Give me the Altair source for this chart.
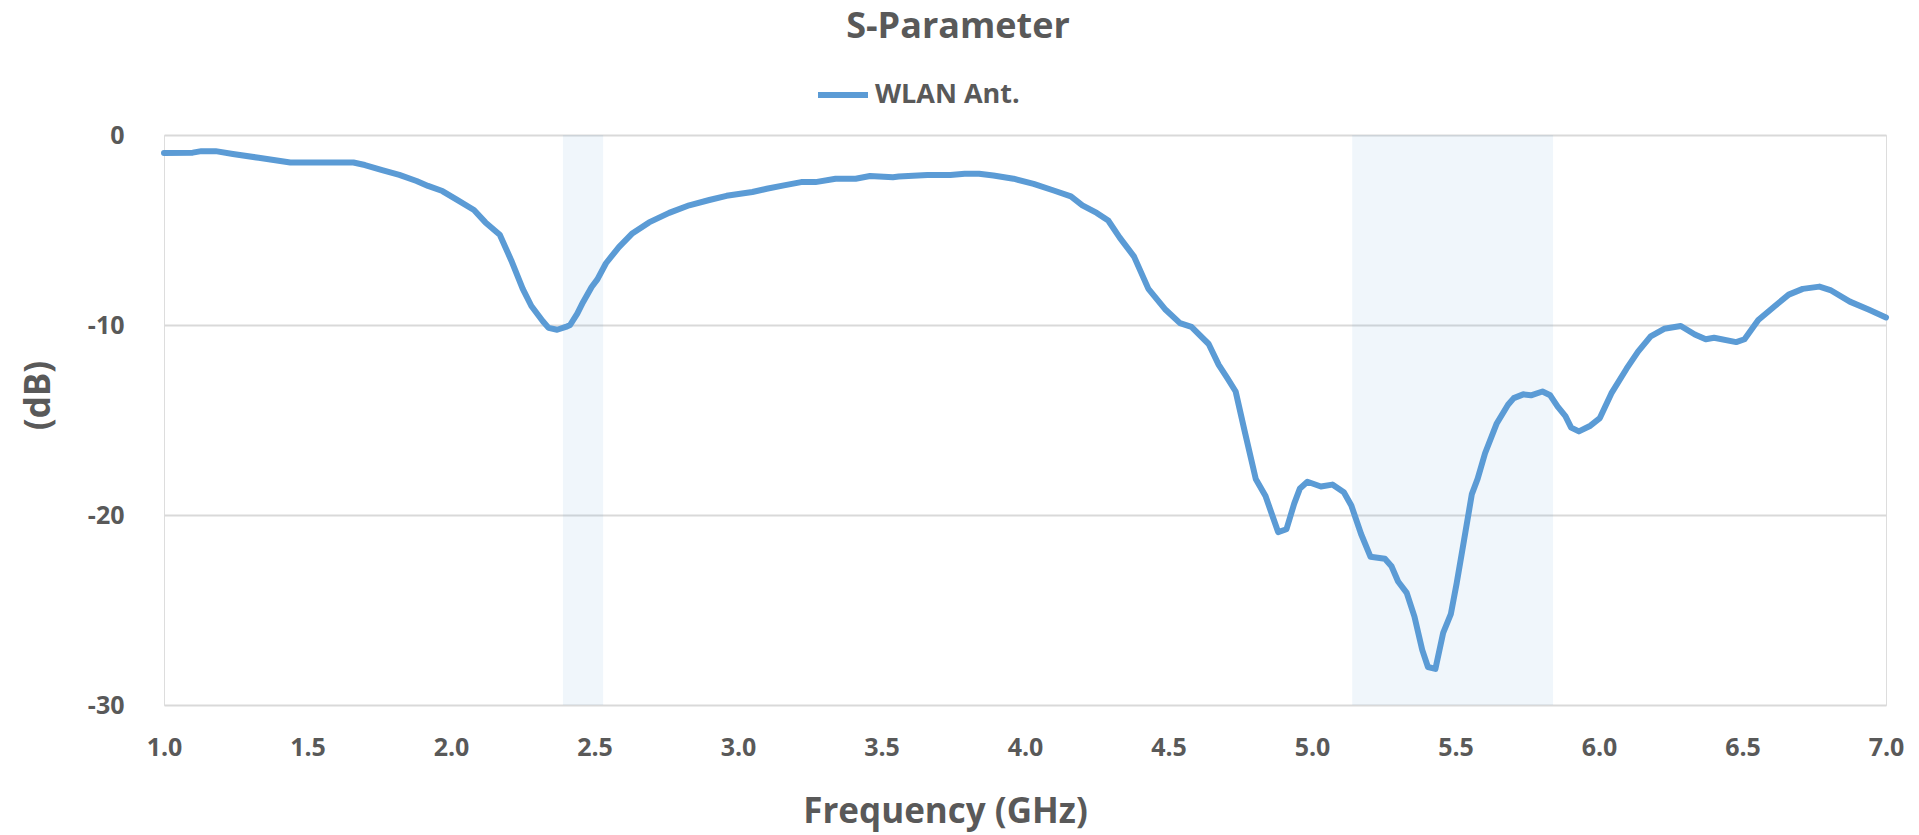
import altair as alt
import pandas as pd

# Frequency (GHz) and S11 (dB)
freq = [1.0, 1.1, 1.13, 1.18, 1.24, 1.33, 1.44, 1.66, 1.70, 1.76, 1.82, 1.88, 1.92, 1.97,
        2.02, 2.08, 2.12, 2.17, 2.21, 2.25, 2.28, 2.32, 2.34, 2.37, 2.40, 2.415, 2.44, 2.46,
        2.49, 2.51, 2.54, 2.585, 2.63, 2.69, 2.76, 2.83, 2.90, 2.96, 3.05, 3.10, 3.16, 3.22,
        3.27, 3.34, 3.41, 3.46, 3.54, 3.56, 3.66, 3.74, 3.79, 3.84, 3.89, 3.96, 4.03, 4.10,
        4.16, 4.20, 4.25, 4.29, 4.33, 4.38, 4.43, 4.49, 4.54, 4.58, 4.64, 4.675, 4.705, 4.734,
        4.764, 4.804, 4.838, 4.882, 4.911, 4.938, 4.958, 4.984, 5.031, 5.071, 5.111, 5.137,
        5.171, 5.204, 5.254, 5.277, 5.30, 5.33, 5.357, 5.384, 5.404, 5.43, 5.457, 5.484,
        5.504, 5.53, 5.557, 5.577, 5.603, 5.643, 5.683, 5.703, 5.736, 5.763, 5.803, 5.83,
        5.856, 5.883, 5.903, 5.93, 5.97, 6.003, 6.043, 6.096, 6.136, 6.18, 6.227, 6.285,
        6.334, 6.372, 6.401, 6.478, 6.507, 6.555, 6.613, 6.661, 6.71, 6.768, 6.806, 6.874,
        6.941, 7.0]
s11 = [-0.95, -0.93, -0.85, -0.85, -1.0, -1.2, -1.45, -1.45, -1.58, -1.85, -2.1, -2.42, -2.68, -2.95,
       -3.4, -3.95, -4.6, -5.25, -6.6, -8.1, -9.0, -9.8, -10.15, -10.25, -10.1, -10.0, -9.4, -8.8,
       -8.0, -7.6, -6.75, -5.9, -5.2, -4.6, -4.1, -3.7, -3.42, -3.2, -3.0, -2.83, -2.65, -2.48,
       -2.48, -2.3, -2.3, -2.16, -2.22, -2.19, -2.1, -2.1, -2.04, -2.04, -2.13, -2.3, -2.57, -2.92,
       -3.23, -3.7, -4.1, -4.5, -5.4, -6.4, -8.1, -9.2, -9.9, -10.1, -11.0, -12.1, -12.8, -13.5,
       -15.5, -18.1, -19.0, -20.9, -20.75, -19.4, -18.6, -18.25, -18.5, -18.4, -18.8, -19.5,
       -21.0, -22.2, -22.3, -22.7, -23.5, -24.1, -25.35, -27.1, -28.0, -28.1, -26.2, -25.2,
       -23.6, -21.3, -18.9, -18.1, -16.75, -15.2, -14.2, -13.85, -13.65, -13.7, -13.5, -13.7,
       -14.3, -14.8, -15.4, -15.6, -15.3, -14.9, -13.6, -12.3, -11.4, -10.6, -10.2, -10.05,
       -10.5, -10.75, -10.67, -10.9, -10.75, -9.74, -9.0, -8.4, -8.1, -7.98, -8.16, -8.77,
       -9.2, -9.6]
series_name = "WLAN Ant."

# Highlighted WLAN bands (GHz)
band_start = [2.39, 5.14]
band_end = [2.53, 5.84]
band_top = [0, 0]
band_bottom = [-30, -30]

x_ticks = [1.0, 1.5, 2.0, 2.5, 3.0, 3.5, 4.0, 4.5, 5.0, 5.5, 6.0, 6.5, 7.0]
y_ticks = [0, -10, -20, -30]

FONT = "Open Sans"
GREY = "#595959"
BLUE = "#5B9BD5"

line_df = pd.DataFrame({"f": freq, "db": s11, "series": [series_name] * len(freq)})
band_df = pd.DataFrame({"x1": band_start, "x2": band_end, "y1": band_top, "y2": band_bottom})

xscale = alt.Scale(domain=[1, 7], nice=False, zero=False)
yscale = alt.Scale(domain=[-30, 0], nice=False, zero=False)

bands = alt.Chart(band_df).mark_rect(color=BLUE, opacity=0.09).encode(
    x=alt.X("x1:Q", scale=xscale,
            axis=alt.Axis(values=x_ticks, format=".1f", grid=False, domain=False, ticks=False,
                          labelFlush=False, labelOverlap=False,
                          labelFont=FONT, labelFontSize=25, labelFontWeight="bold",
                          labelColor=GREY, labelPadding=30,
                          title="Frequency (GHz)", titleFont=FONT, titleFontSize=35,
                          titleFontWeight="bold", titleColor=GREY,
                          titleX=781, titleY=106, titleBaseline="middle", titleAlign="center")),
    x2="x2:Q",
    y=alt.Y("y1:Q", scale=yscale,
            axis=alt.Axis(values=y_ticks, grid=True, gridColor="#D9D9D9",
                          labelExpr="replace(format(datum.value, 'd'), '\u2212', '-')",
                          gridWidth=2, domain=False, ticks=False,
                          labelFlush=False, labelOverlap=False,
                          labelFont=FONT, labelFontSize=25, labelFontWeight="bold",
                          labelColor=GREY, labelPadding=40,
                          title="(dB)", titleFont=FONT, titleFontSize=35,
                          titleFontWeight="bold", titleColor=GREY,
                          titleX=-126, titleY=260, titleAngle=270,
                          titleBaseline="middle", titleAlign="center")),
    y2="y2:Q",
)

line = alt.Chart(line_df).mark_line(strokeWidth=6, strokeJoin="round", strokeCap="round").encode(
    x=alt.X("f:Q", scale=xscale),
    y=alt.Y("db:Q", scale=yscale),
    color=alt.Color("series:N",
                    scale=alt.Scale(domain=[series_name], range=[BLUE]),
                    legend=alt.Legend(title=None, orient="none", legendX=651, legendY=-68,
                                      symbolType="stroke", symbolSize=2500,
                                      symbolStrokeWidth=6, labelFont=FONT,
                                      labelFontSize=27, labelFontWeight="bold",
                                      labelColor=GREY, labelOffset=4, padding=0)),
)

chart = alt.layer(bands, line).properties(
    width=1722,
    height=570,
    autosize=alt.AutoSizeParams(type="none"),
    padding={"left": 164, "top": 135, "right": 33, "bottom": 130},
    title=alt.TitleParams(text="S-Parameter", anchor="middle", font=FONT, fontSize=36,
                          fontWeight="bold", color=GREY, dx=-67, offset=21),
).configure_view(stroke=None).configure(background="white")

chart.save("out.html", embed_options={"renderer": "svg", "actions": False})
